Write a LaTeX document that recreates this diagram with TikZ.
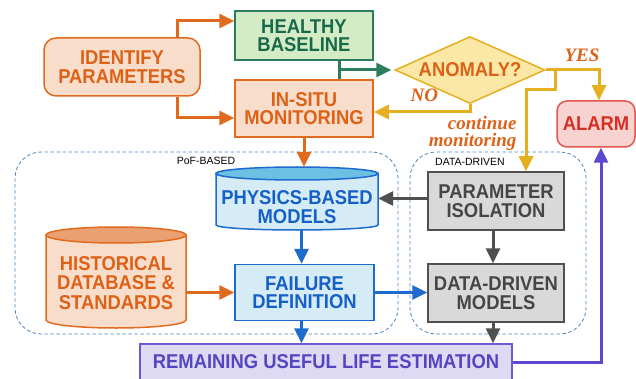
\documentclass[tikz,border=0pt]{standalone}
\usepackage{fontspec}
\setmainfont{Liberation Sans}
\newfontfamily\boxfont[FakeStretch=0.92]{Liberation Sans}
\newfontfamily\notefont{Liberation Serif}
\usetikzlibrary{arrows.meta,shapes.geometric,calc}

\definecolor{orng}{HTML}{E06A1E}
\definecolor{orngtxt}{HTML}{DD6116}
\definecolor{ofill}{HTML}{F8DDCB}
\definecolor{otop}{HTML}{EAA072}
\definecolor{grnline}{HTML}{2B7D5C}
\definecolor{grntxt}{HTML}{17694A}
\definecolor{gfill}{HTML}{D3ECC5}
\definecolor{gold}{HTML}{E5AF1F}
\definecolor{yfill}{HTML}{FBE8A6}
\definecolor{redline}{HTML}{E2574A}
\definecolor{redtxt}{HTML}{D82E22}
\definecolor{rfill}{HTML}{F6D3D0}
\definecolor{blueline}{HTML}{1E6BCF}
\definecolor{bluetxt}{HTML}{1560C7}
\definecolor{bfill}{HTML}{D5EBF6}
\definecolor{btop}{HTML}{6BC0E3}
\definecolor{grayline}{HTML}{505050}
\definecolor{graytxt}{HTML}{454545}
\definecolor{grayfill}{HTML}{D9D9D9}
\definecolor{purpline}{HTML}{6A5BD2}
\definecolor{purptxt}{HTML}{5545C0}
\definecolor{pfill}{HTML}{DEDAF4}
\definecolor{purparrow}{HTML}{5A49CF}
\definecolor{dashcol}{HTML}{4A84BE}

\begin{document}
\begin{tikzpicture}[x=1pt,y=-1pt,
  box/.style={draw, line width=1.5pt, inner sep=0pt, align=center,
    font=\boxfont\bfseries\fontsize{20}{18.5}\selectfont},
  orangebox/.style={box, fill=ofill, draw=orng, text=orngtxt},
  bluebox/.style={box, fill=bfill, draw=blueline, text=bluetxt},
  graybox/.style={box, fill=grayfill, draw=grayline, text=graytxt},
  area/.style={inner sep=0pt},
  boxtext/.style={align=center, font=\boxfont\bfseries\fontsize{20}{18.5}\selectfont},
  arr/.style={line width=3pt, -{Triangle[length=15pt,width=14pt]}},
  groupframe/.style={draw=dashcol, line width=0.8pt, dash pattern=on 3.5pt off 2.5pt,
    rounded corners=26pt, inner sep=0pt},
  grouplabel/.style={font=\fontsize{10.5}{12}\selectfont, text=black},
  decision/.style={font=\notefont\bfseries\itshape\fontsize{19}{17}\selectfont, text=orngtxt}
]
\useasboundingbox (0,0) rectangle (636,379);

% group frames
\node[groupframe, minimum width=383pt, minimum height=182pt] (pof) at (206.5,243) {};
\node[groupframe, minimum width=176pt, minimum height=182pt] (dd) at (498,243) {};
\node[grouplabel] (poflabel) at (206,161) {PoF-BASED};
\node[grouplabel] (ddlabel) at (470,162) {DATA-DRIVEN};

% top row
\node[orangebox, rounded corners=12pt, minimum width=156pt, minimum height=58pt]
  (ident) at (122,67) {IDENTIFY\\PARAMETERS};
\node[box, fill=gfill, draw=grnline, text=grntxt, minimum width=138pt, minimum height=49pt]
  (healthy) at (304,35.5) {HEALTHY\\BASELINE};
\node[orangebox, minimum width=138pt, minimum height=57pt]
  (insitu) at (304,108.5) {IN-SITU\\MONITORING};
\node[box, diamond, aspect=2.24, fill=yfill, draw=gold, text=orngtxt,
  minimum width=150pt, minimum height=67pt] (anomaly) at (470,70) {ANOMALY?};
\node[box, fill=rfill, draw=redline, text=redtxt, rounded corners=10pt,
  minimum width=78pt, minimum height=46pt] (alarm) at (596,124) {ALARM};

% physics-based models (cylinder)
\node[area, minimum width=162pt, minimum height=63pt] (phys) at (297,198.5) {};
\path[fill=bfill, draw=blueline, line width=1.5pt]
  (216,173.5) -- (216,225)
  arc[start angle=180, end angle=360, x radius=81pt, y radius=5pt]
  -- (378,173.5) -- cycle;
\draw[fill=btop, draw=blueline, line width=1.5pt] (297,173.5) ellipse[x radius=81pt, y radius=6.5pt];
\node[boxtext, text=bluetxt] (phystext) at (297,207) {PHYSICS-BASED\\MODELS};

% historical database (cylinder)
\node[area, minimum width=140pt, minimum height=101pt] (hist) at (116,277.5) {};
\path[fill=ofill, draw=orng, line width=1.5pt]
  (46,235) -- (46,320)
  arc[start angle=180, end angle=360, x radius=70pt, y radius=8pt]
  -- (186,235) -- cycle;
\draw[fill=otop, draw=orng, line width=1.5pt] (116,235) ellipse[x radius=70pt, y radius=8pt];
\node[boxtext, text=orngtxt, font=\boxfont\bfseries\fontsize{20}{19.5}\selectfont] (histtext) at (116,283) {HISTORICAL\\DATABASE \&\\STANDARDS};

\node[bluebox, minimum width=139pt, minimum height=56pt] (failure) at (304.5,292.5) {FAILURE\\DEFINITION};
\node[graybox, minimum width=136pt, minimum height=58pt] (param) at (496,201) {PARAMETER\\ISOLATION};
\node[graybox, minimum width=136pt, minimum height=58pt] (ddm) at (496,293) {DATA-DRIVEN\\MODELS};
\node[box, fill=pfill, draw=purpline, text=purptxt, minimum width=372pt, minimum height=36pt]
  (rul) at (326,362) {REMAINING USEFUL LIFE ESTIMATION};

% connectors: top row
\draw[arr, orng] ([xshift=55pt]ident.north) |- ([yshift=14.5pt]healthy.west);
\draw[arr, orng] ([xshift=55pt]ident.south) |- ([yshift=-9.5pt]insitu.west);
\draw[line width=3pt, grnline] ([xshift=35pt]healthy.south) -- ([xshift=35pt]insitu.north);
\coordinate (gj) at ($([xshift=35pt]healthy.south)!0.5!([xshift=35pt]insitu.north)$);
\draw[arr, grnline, shorten >=3pt] (gj) -- (anomaly.west);
\draw[arr, gold] (anomaly.south) |- ([yshift=-3.5pt]insitu.east);
\draw[arr, gold] (anomaly.east) -| ([xshift=3pt]alarm.north);
\coordinate (cm) at ([xshift=10pt]anomaly.east);
\draw[arr, gold] (cm) -- ++(0,20) -| ([xshift=30pt]param.north);

% decision labels
\node[decision, anchor=base west] (yes) at (561,62) {YES};
\node[decision, anchor=base west] (no) at (407,102) {NO};
\node[decision, align=right, anchor=east] (cont) at (520,133) {continue\\monitoring};

% connectors: models
\draw[arr, orng] (insitu.south) -- (insitu.south |- phys.north);
\draw[arr, blueline] ([xshift=-3pt]failure.north |- phys.south) -- ([xshift=-3pt]failure.north);
\draw[arr, orng] (failure.west -| hist.east) -- (failure.west);
\draw[arr, blueline] (failure.east) -- (failure.east -| ddm.west);
\draw[arr, grayline] (param.west |- phys.east) -- (phys.east);
\draw[arr, grayline] ([xshift=-3pt]param.south) -- ([xshift=-3pt]ddm.north);
\draw[arr, grayline] ([xshift=-3pt]ddm.south) -- ([xshift=-3pt]ddm.south |- rul.north);
\draw[arr, blueline] ([xshift=-3pt]failure.south) -- ([xshift=-3pt]failure.south |- rul.north);
\draw[arr, purparrow] (rul.east) -| ([xshift=5pt]alarm.south);
\end{tikzpicture}
\end{document}
